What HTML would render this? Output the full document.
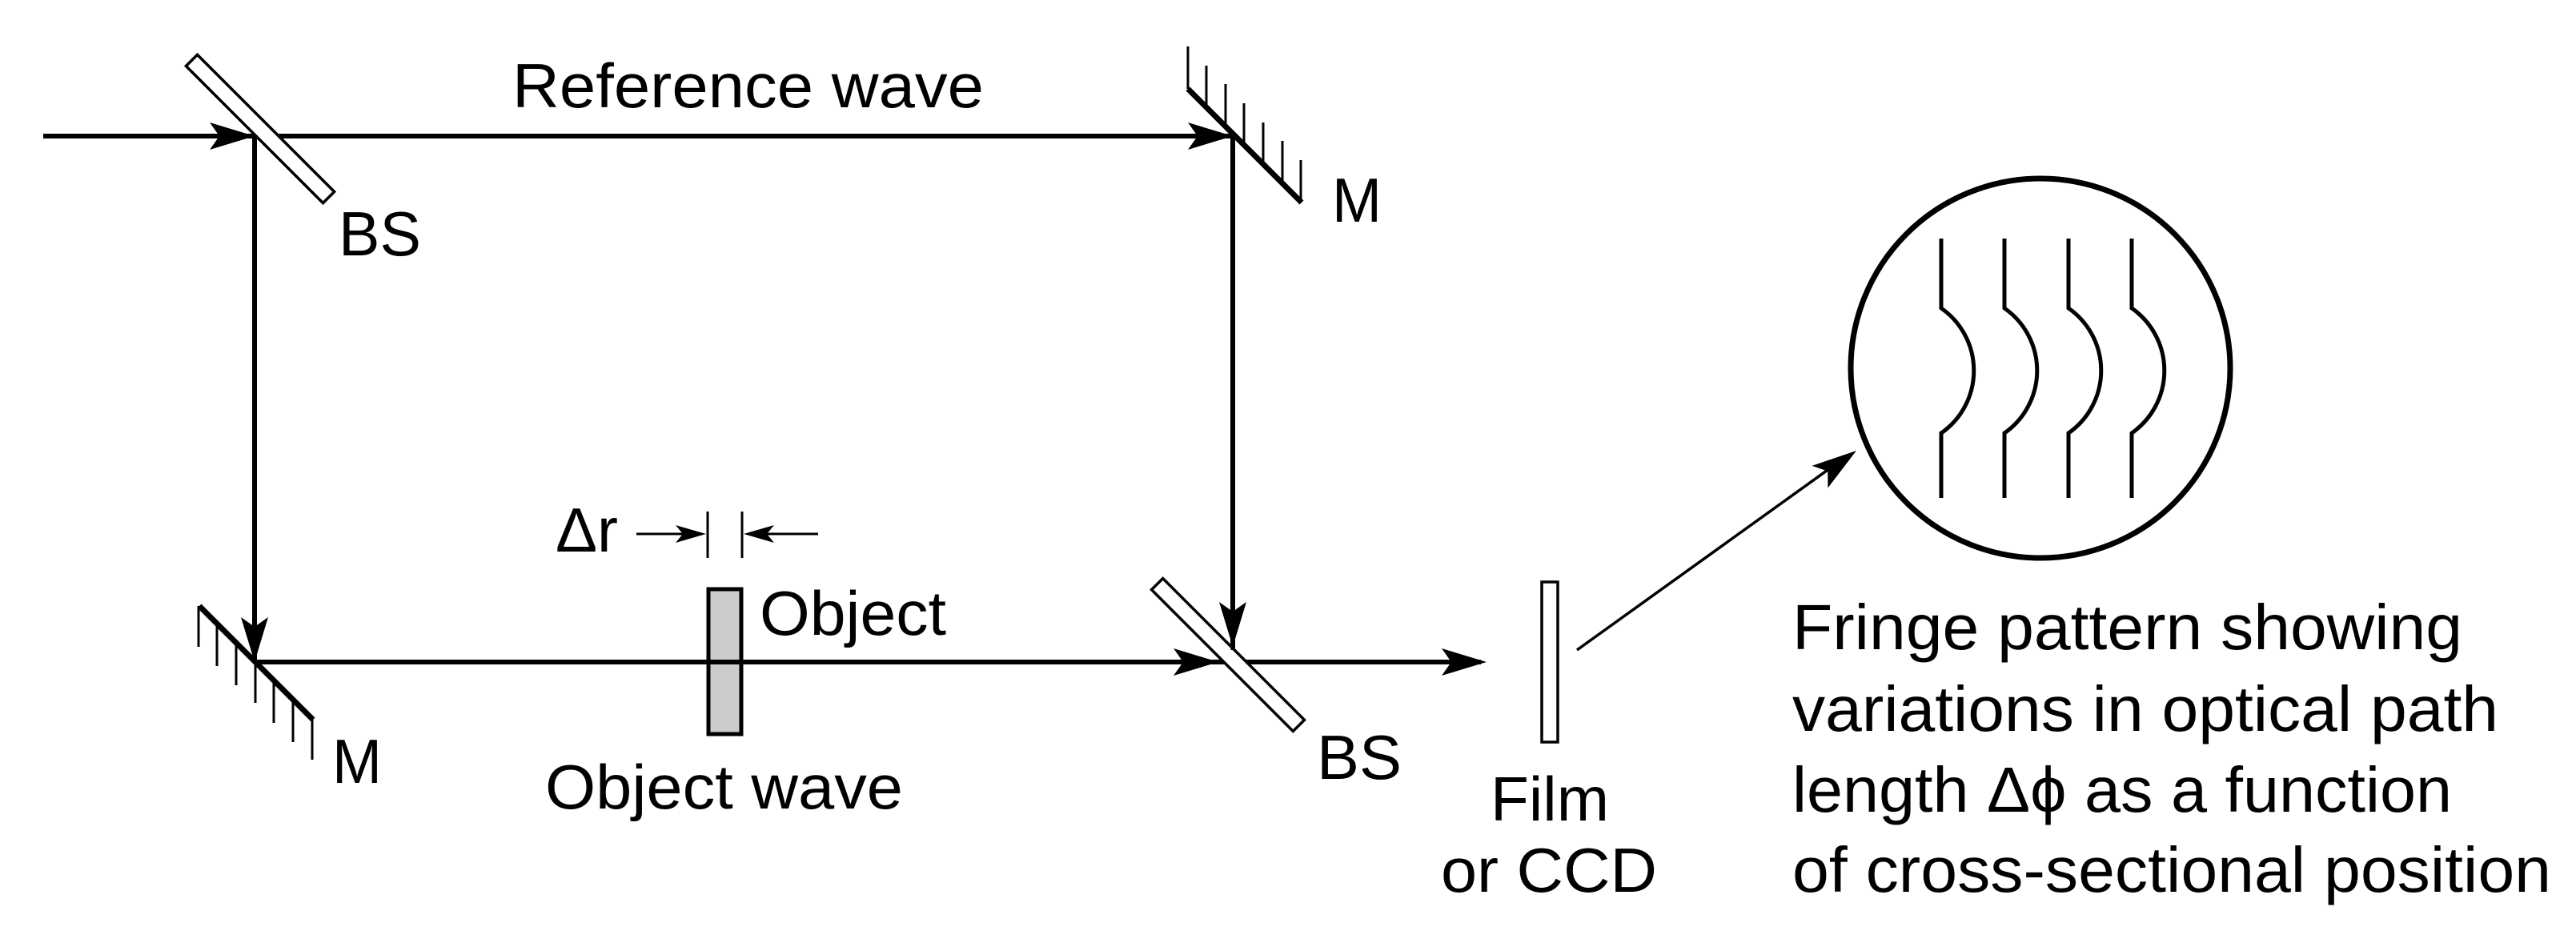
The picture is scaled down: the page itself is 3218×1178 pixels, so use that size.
<!DOCTYPE html>
<html><head><meta charset="utf-8"><style>html,body{margin:0;padding:0;background:#fff}svg{display:block}</style></head>
<body>
<svg xmlns="http://www.w3.org/2000/svg" width="3218" height="1178" viewBox="0 0 3218 1178">
<defs>
<path id="ah" d="M0,0 L-56,-17 L-44,0 L-56,17 Z" fill="#000"/>
<path id="ahs" d="M0,0 L-38,-11 L-29,0 L-38,11 Z" fill="#000"/>
</defs>
<g stroke="#000" fill="none" stroke-width="6">
<line x1="54" y1="170" x2="1540" y2="170"/>
<line x1="318" y1="170" x2="318" y2="827"/>
<line x1="1540" y1="170" x2="1540" y2="827"/>
<line x1="318" y1="827" x2="1850" y2="827"/>
</g>
<use href="#ah" transform="translate(318,170)"/>
<use href="#ah" transform="translate(1540,170)"/>
<use href="#ah" transform="translate(318,827) rotate(90)"/>
<use href="#ah" transform="translate(1540,808) rotate(90)"/>
<use href="#ah" transform="translate(1522,827)"/>
<use href="#ah" transform="translate(1857,827)"/>
<g transform="translate(325,161) rotate(45)">
<rect x="-121" y="-10" width="242" height="20" fill="#fff" stroke="#000" stroke-width="3.5"/>
</g>
<g transform="translate(1534,818) rotate(45)">
<rect x="-125" y="-10" width="250" height="20" fill="#fff" stroke="#000" stroke-width="3.5"/>
</g>
<line x1="1540" y1="800" x2="1540" y2="812" stroke="#000" stroke-width="5"/>
<g stroke="#000" stroke-width="7">
<line x1="1484" y1="111" x2="1626" y2="253"/>
<line x1="249" y1="757" x2="391" y2="899"/>
</g>
<g stroke="#000" stroke-width="3">
<line x1="1484" y1="58" x2="1484" y2="111"/>
<line x1="1507" y1="82" x2="1507" y2="134"/>
<line x1="1531" y1="105" x2="1531" y2="158"/>
<line x1="1554" y1="129" x2="1554" y2="181"/>
<line x1="1578" y1="153" x2="1578" y2="205"/>
<line x1="1602" y1="176" x2="1602" y2="229"/>
<line x1="1625" y1="200" x2="1625" y2="252"/>
<line x1="248" y1="757" x2="248" y2="808"/>
<line x1="271" y1="780" x2="271" y2="832"/>
<line x1="295" y1="804" x2="295" y2="856"/>
<line x1="319" y1="828" x2="319" y2="878"/>
<line x1="342" y1="851" x2="342" y2="903"/>
<line x1="366" y1="875" x2="366" y2="927"/>
<line x1="390" y1="898" x2="390" y2="949"/>
</g>
<rect x="885" y="736" width="41" height="181" fill="#ccc" stroke="#000" stroke-width="5"/>
<line x1="885" y1="827" x2="926" y2="827" stroke="#000" stroke-width="6"/>
<g stroke="#000" stroke-width="3">
<line x1="884" y1="639" x2="884" y2="697"/>
<line x1="927" y1="639" x2="927" y2="697"/>
<line x1="795" y1="667" x2="870" y2="667"/>
<line x1="1022" y1="667" x2="940" y2="667"/>
</g>
<use href="#ahs" transform="translate(882,667)"/>
<use href="#ahs" transform="translate(929,667) rotate(180)"/>
<rect x="1926" y="727" width="20" height="200" fill="#fff" stroke="#000" stroke-width="3.5"/>
<line x1="1970" y1="812" x2="2300" y2="575" stroke="#000" stroke-width="3.5"/>
<use href="#ah" transform="translate(2319,563) rotate(-35.7)"/>
<circle cx="2549" cy="460" r="237" fill="none" stroke="#000" stroke-width="7"/>
<g stroke="#000" stroke-width="5" fill="none">
<path d="M2425,298 V385 A95,95 0 0 1 2425,541 V622"/>
<path d="M2504,298 V385 A95,95 0 0 1 2504,541 V622"/>
<path d="M2584,298 V385 A95,95 0 0 1 2584,541 V622"/>
<path d="M2663,298 V385 A95,95 0 0 1 2663,541 V622"/>
</g>
<g font-family="Liberation Sans, sans-serif" font-size="78" fill="#000">
<text x="640" y="134" textLength="589" lengthAdjust="spacingAndGlyphs">Reference wave</text>
<text x="423" y="319" textLength="103" lengthAdjust="spacingAndGlyphs">BS</text>
<text x="1664" y="277" textLength="62" lengthAdjust="spacingAndGlyphs">M</text>
<text x="415" y="978" textLength="62" lengthAdjust="spacingAndGlyphs">M</text>
<text x="694" y="689" textLength="78" lengthAdjust="spacingAndGlyphs">Δr</text>
<text x="949" y="793" textLength="233" lengthAdjust="spacingAndGlyphs">Object</text>
<text x="681" y="1010" textLength="447" lengthAdjust="spacingAndGlyphs">Object wave</text>
<text x="1645" y="973" textLength="106" lengthAdjust="spacingAndGlyphs">BS</text>
<text x="1862" y="1025" textLength="148" lengthAdjust="spacingAndGlyphs">Film</text>
<text x="1800" y="1114" textLength="270" lengthAdjust="spacingAndGlyphs">or CCD</text>
</g>
<g font-family="Liberation Sans, sans-serif" font-size="80" fill="#000">
<text x="2239" y="811" textLength="837" lengthAdjust="spacingAndGlyphs">Fringe pattern showing</text>
<text x="2239" y="913" textLength="882" lengthAdjust="spacingAndGlyphs">variations in optical path</text>
<text x="2239" y="1014" textLength="824" lengthAdjust="spacingAndGlyphs">length Δϕ as a function</text>
<text x="2239" y="1114" textLength="948" lengthAdjust="spacingAndGlyphs">of cross-sectional position</text>
</g>
</svg>
</body></html>
